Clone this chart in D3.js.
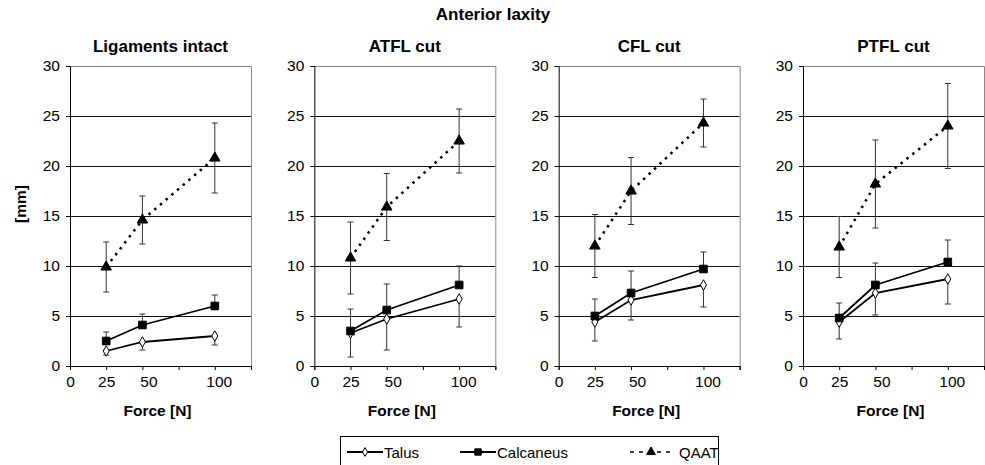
<!DOCTYPE html>
<html>
<head>
<meta charset="utf-8">
<script src="https://cdn.jsdelivr.net/npm/d3@7"></script>
<style>
  body { margin: 0; background: #fff; }
  text { font-family: "Liberation Sans", Arial, sans-serif; }
</style>
</head>
<body>
<div id="chart-area"></div>
<script>
// anterior laxity, 4 panels (ligament states)

var panels = ["Ligaments intact", "ATFL cut", "CFL cut", "PTFL cut"];
var forces = [25, 50, 100];
var xTickValues = [0, 25, 50, 75, 100, 125];
var xTickLabels = ["0", "25", "50", "", "100", ""];
var yTickValues = [0, 5, 10, 15, 20, 25, 30];
var seriesNames = ["Talus", "Calcaneus", "QAAT"];

// means [panel][force]
var talusMean = [[1.5, 2.4, 3.0], [3.3, 4.7, 6.7], [4.4, 6.6, 8.1], [4.4, 7.3, 8.7]];
var calcMean  = [[2.5, 4.1, 6.0], [3.5, 5.6, 8.1], [5.0, 7.3, 9.7], [4.8, 8.1, 10.4]];
var qaatMean  = [[9.9, 14.6, 20.8], [10.8, 15.9, 22.5], [12.0, 17.5, 24.3], [11.9, 18.2, 24.0]];
// error bars (sd)
var talusSD = [[0.4, 0.8, 0.9], [2.4, 3.1, 2.8], [1.9, 2.0, 2.2], [1.7, 2.2, 2.5]];
var calcSD  = [[0.9, 1.1, 1.1], [2.2, 2.6, 1.9], [1.7, 2.2, 1.7], [1.5, 2.2, 2.2]];
var qaatSD  = [[2.5, 2.4, 3.5], [3.6, 3.35, 3.2], [3.15, 3.35, 2.4], [3.05, 4.4, 4.25]];

var W = 985, H = 465;
var plotTop = 66, plotH = 300, plotW = 181;
var firstLeft = 70, step = 244.33;

var svg = d3.select("#chart-area")
	.append("svg")
		.attr("width", W)
		.attr("height", H);

svg.append("text")
	.attr("x", 493)
	.attr("y", 20)
	.attr("text-anchor", "middle")
	.attr("font-size", "17px")
	.attr("font-weight", "bold")
	.text("Anterior laxity");

// scales
var x = d3.scaleLinear().domain([0, 125]).range([0, plotW]);
var y = d3.scaleLinear().domain([0, 30]).range([plotH, 0]);

var line = d3.line()
	.x(function(d){ return x(d.f); })
	.y(function(d){ return y(d.v); });

// series style table built from the arrays above
var series = [
	{ name: seriesNames[0], mean: talusMean, sd: talusSD, up: false, down: true,
	  symbol: d3.symbolDiamond, size: 32, fill: "#fff", dash: null },
	{ name: seriesNames[1], mean: calcMean, sd: calcSD, up: true, down: false,
	  symbol: d3.symbolSquare, size: 58, fill: "#000", dash: null },
	{ name: seriesNames[2], mean: qaatMean, sd: qaatSD, up: true, down: true,
	  symbol: d3.symbolTriangle, size: 48, fill: "#000", dash: "2.5,5" }
];

panels.forEach(function(title, p){
	var left = firstLeft + p * step;
	var g = svg.append("g")
		.attr("transform", "translate(" + left + "," + plotTop + ")");

	// grid lines
	g.selectAll(".grid")
		.data(yTickValues.filter(function(v){ return v > 0 && v < 30; }))
		.enter().append("line")
			.attr("x1", 0).attr("x2", plotW)
			.attr("y1", function(d){ return Math.round(y(d)) + 0.5; })
			.attr("y2", function(d){ return Math.round(y(d)) + 0.5; })
			.attr("stroke", "#111")
			.attr("stroke-width", 1);

	// plot border top / right
	g.append("path")
		.attr("d", "M0,0.5H" + (plotW + 0.5) + "V" + plotH)
		.attr("fill", "none")
		.attr("stroke", "#888")
		.attr("stroke-width", 1);

	// axes
	var yAxis = d3.axisLeft(y).tickValues(yTickValues).tickSize(4).tickPadding(6);
	var ya = g.append("g").call(yAxis);
	ya.selectAll("text").attr("font-size", "15.5px").attr("fill", "#000")
		.attr("font-family", "Liberation Sans, Arial, sans-serif");

	var xAxis = d3.axisBottom(x).tickValues(xTickValues).tickSize(4).tickPadding(6)
		.tickFormat(function(d, i){ return xTickLabels[i]; });
	var xa = g.append("g")
		.attr("transform", "translate(0," + plotH + ")")
		.call(xAxis);
	xa.selectAll("text").attr("font-size", "15.5px").attr("fill", "#000")
		.attr("font-family", "Liberation Sans, Arial, sans-serif")
		.attr("dx", function(d){ return d == 50 ? 6 : (d == 100 ? 4 : 0); });
	g.selectAll(".domain, .tick line").attr("stroke", "#000");

	// titles
	g.append("text")
		.attr("x", plotW / 2)
		.attr("y", -14)
		.attr("text-anchor", "middle")
		.attr("font-size", "17px")
		.attr("font-weight", "bold")
		.text(title);

	g.append("text")
		.attr("x", plotW / 2 - 3)
		.attr("y", plotH + 50)
		.attr("text-anchor", "middle")
		.attr("font-size", "15.5px")
		.attr("font-weight", "bold")
		.text("Force [N]");

	if (p == 0) {
		g.append("text")
			.attr("transform", "translate(-44," + (plotH / 2 - 12) + ") rotate(-90)")
			.attr("text-anchor", "middle")
			.attr("font-size", "15.5px")
			.attr("font-weight", "bold")
			.text("[mm]");
	}

	series.forEach(function(s){
		var pts = forces.map(function(f, i){
			return { f: f, v: s.mean[p][i], e: s.sd[p][i] };
		});

		g.append("path")
			.datum(pts)
			.attr("d", line)
			.attr("fill", "none")
			.attr("stroke", "#000")
			.attr("stroke-width", s.dash ? 2.5 : 1.8)
			.attr("stroke-dasharray", s.dash);

		// error bars
		pts.forEach(function(d){
			var top = s.up ? d.v + d.e : d.v;
			var bot = s.down ? d.v - d.e : d.v;
			var cx = x(d.f);
			g.append("line")
				.attr("x1", cx).attr("x2", cx)
				.attr("y1", y(top)).attr("y2", y(bot))
				.attr("stroke", "#333").attr("stroke-width", 1);
			if (s.up) {
				g.append("line")
					.attr("x1", cx - 3).attr("x2", cx + 3)
					.attr("y1", y(top)).attr("y2", y(top))
					.attr("stroke", "#333").attr("stroke-width", 1);
			}
			if (s.down) {
				g.append("line")
					.attr("x1", cx - 3).attr("x2", cx + 3)
					.attr("y1", y(bot)).attr("y2", y(bot))
					.attr("stroke", "#333").attr("stroke-width", 1);
			}
		});

		g.selectAll(".m" + s.name)
			.data(pts)
			.enter().append("path")
				.attr("transform", function(d){ return "translate(" + x(d.f) + "," + y(d.v) + ")"; })
				.attr("d", d3.symbol().type(s.symbol).size(s.size))
				.attr("fill", s.fill)
				.attr("stroke", "#000")
				.attr("stroke-width", 1);
	});
});

// legend
var legend = svg.append("g");
legend.append("rect")
	.attr("x", 340.5).attr("y", 436.5)
	.attr("width", 378).attr("height", 40)
	.attr("fill", "#fff")
	.attr("stroke", "#000")
	.attr("stroke-width", 1);

var legendX = [347, 460, 630];
series.forEach(function(s, i){
	var lx = legendX[i];
	var row = legend.append("g").attr("transform", "translate(" + lx + ",452)");
	row.append("line")
		.attr("x1", 0).attr("x2", s.dash ? 40 : 36)
		.attr("y1", 0).attr("y2", 0)
		.attr("stroke", "#000")
		.attr("stroke-width", s.dash ? 1.5 : 1.8)
		.attr("stroke-dasharray", s.dash ? "4,5" : null);
	row.append("path")
		.attr("transform", "translate(" + (s.dash ? 21 : 18) + ",0)")
		.attr("d", d3.symbol().type(s.symbol).size(s.size * 0.7))
		.attr("fill", s.fill)
		.attr("stroke", "#000");
	row.append("text")
		.attr("x", s.dash ? 49 : 37)
		.attr("y", 5.5)
		.attr("font-size", "15px")
		.text(s.name);
});
</script>
</body>
</html>
